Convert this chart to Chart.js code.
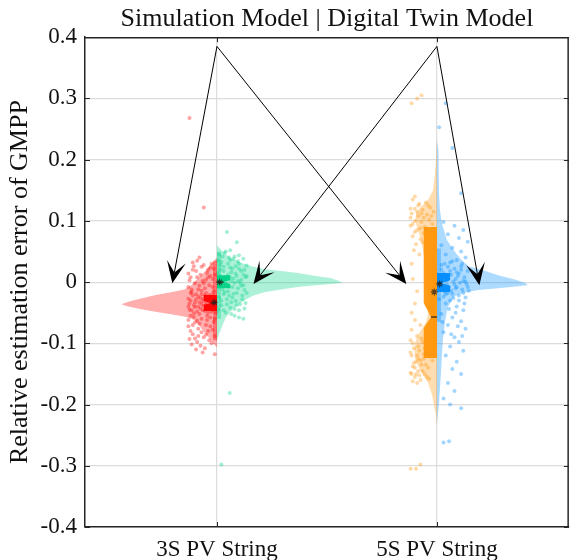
<!DOCTYPE html>
<html><head><meta charset="utf-8">
<script src="https://cdn.jsdelivr.net/npm/chart.js@4"></script>
<style>html,body{margin:0;padding:0;background:#fff;}</style>
</head><body>
<canvas id="c" width="574" height="560"></canvas>
<script>
// ---------------- data ----------------
const categories = ['3S PV String', '5S PV String'];
const categoryPositions = [1, 2];
const chartTitle = 'Simulation Model | Digital Twin Model';
const yAxisTitle = 'Relative estimation error of GMPP';
const yTickValues = [-0.4, -0.3, -0.2, -0.1, 0, 0.1, 0.2, 0.3, 0.4];

// half-violin density profiles (level, relative density)
const simViolin3S_y = [0.040,0.033,0.025,0.016,0.005,-0.005,-0.012,-0.017,-0.021,-0.027,-0.032,-0.036,-0.040,-0.044,-0.049,-0.053,-0.057,-0.062,-0.070,-0.078,-0.087,-0.095,-0.102,-0.107];
const simViolin3S_d = [0,4,8,13,20,26,33,48,62,78,90,97,90,78,61,45,31,23,18,15,10,6,3,0];
const dtViolin3S_y = [0.060,0.055,0.048,0.040,0.031,0.025,0.021,0.018,0.0147,0.010,0.0065,0.002,-0.0016,-0.003,-0.005,-0.008,-0.012,-0.016,-0.022,-0.029,-0.037,-0.046,-0.058,-0.073,-0.085,-0.095];
const dtViolin3S_d = [0,3,7,13,25,37,49,65,82,100,115,124,127,115,100,82,65,49,37,29,21,15,9,5,2,0];
const simViolin5S_y = [0.232,0.200,0.175,0.150,0.134,0.122,0.113,0.101,0.088,0.069,0.041,0.011,-0.013,-0.029,-0.045,-0.055,-0.065,-0.083,-0.098,-0.111,-0.127,-0.144,-0.165,-0.184,-0.200,-0.217,-0.233];
const simViolin5S_d = [0,1,2,4,9,17,21,22,20,16,13,11.5,10,9.5,9,9.5,11,18,22,23,22,17,9,5,3,1,0];
const dtViolin5S_y = [0.232,0.215,0.150,0.118,0.096,0.069,0.052,0.036,0.026,0.0196,0.011,0.004,-0.002,-0.005,-0.008,-0.010,-0.013,-0.018,-0.024,-0.041,-0.067,-0.095,-0.122,-0.152,-0.176,-0.200,-0.233];
const dtViolin5S_d = [0,1.5,2,3,5,10,17,25,32,46,62,80,90,92,75,62,42,26,17,11,8,6,5,4,3,2,0];

// box statistics: [q1, notchLo, median, notchHi, q3]
const simBox3S = [-0.047, -0.037, -0.034, -0.031, -0.021];
const dtBox3S  = [-0.010, -0.003, 0.000, 0.003, 0.011];
const simBox5S = [-0.124, -0.075, -0.057, -0.034, 0.090];
const dtBox5S  = [-0.016, -0.006, -0.002, 0.003, 0.015];
// whisker ranges [low, high]
const simWhisker3S = [-0.095, 0.035];
const dtWhisker3S  = [-0.060, 0.050];
const simWhisker5S = [-0.124, 0.090];
const dtWhisker5S  = [-0.065, 0.055];
// means
const simMean = [-0.033, -0.016];
const dtMean  = [0.000, -0.003];

// jittered samples [jitter offset, value]
const simPoints3S = [[-0.12,-0.030],[-0.10,-0.041],[-0.03,-0.025],[-0.07,-0.036],[-0.02,-0.045],[-0.11,-0.022],[-0.05,-0.038],[-0.09,-0.048],[-0.01,-0.031],[-0.06,-0.027],[-0.13,-0.040],[-0.04,-0.050],[-0.08,-0.033],[-0.02,-0.037],[-0.115,-0.046],[-0.035,-0.021],[-0.075,-0.043],[-0.095,-0.028],[-0.055,-0.047],[-0.015,-0.026],[-0.125,-0.035],[-0.065,-0.031],[-0.045,-0.042],[-0.085,-0.024],[-0.105,-0.038],[-0.025,-0.049],[-0.07,-0.020],[-0.005,-0.040],[-0.13,-0.027],[-0.05,-0.033],
[-0.09,0.035],[-0.06,0.028],[-0.11,0.020],[-0.03,0.024],[-0.075,0.012],[-0.12,0.008],[-0.045,0.015],[-0.02,0.005],[-0.10,-0.002],[-0.065,0.002],[-0.13,-0.008],[-0.035,-0.005],[-0.085,-0.012],[-0.015,-0.015],[-0.055,-0.010],[-0.115,-0.016],[-0.025,0.030],[-0.08,0.040],[-0.05,-0.018],[-0.095,0.018],[-0.04,0.008],[-0.125,0.003],[-0.07,-0.014],[-0.01,0.012],[-0.105,0.026],
[-0.12,-0.055],[-0.07,-0.060],[-0.03,-0.058],[-0.10,-0.066],[-0.05,-0.070],[-0.13,-0.072],[-0.015,-0.065],[-0.085,-0.076],[-0.04,-0.080],[-0.11,-0.085],[-0.06,-0.090],[-0.02,-0.078],[-0.125,-0.093],[-0.09,-0.098],[-0.035,-0.095],[-0.075,-0.104],[-0.115,-0.102],[-0.055,-0.108],[-0.025,-0.100],[-0.095,-0.110],[-0.065,-0.115],[-0.045,-0.062],[-0.105,-0.057],[-0.01,-0.088],[-0.08,-0.068],
[-0.115,-0.012],[-0.095,-0.020],[-0.075,-0.026],[-0.055,-0.022],[-0.035,-0.032],[-0.015,-0.034],[-0.125,-0.045],[-0.105,-0.051],[-0.085,-0.040],[-0.065,-0.046],[-0.045,-0.055],[-0.025,-0.041],[-0.005,-0.050],[-0.12,-0.018],[-0.10,-0.033],[-0.08,-0.052],[-0.06,-0.039],[-0.04,-0.029],[-0.02,-0.020],[-0.13,-0.062],[-0.11,-0.070],[-0.09,-0.063],[-0.07,-0.082],[-0.05,-0.086],[-0.03,-0.072],[-0.01,-0.060],[-0.12,-0.080],[-0.10,-0.092],[-0.08,-0.006],[-0.06,-0.002],[-0.04,0.020],[-0.02,-0.008],[-0.13,0.014],[-0.11,0.032],[-0.09,0.008],[-0.07,0.025],[-0.05,0.004],[-0.03,0.010],[-0.015,0.022],[-0.085,-0.088],
[-0.125,0.268],[-0.06,0.122],[-0.01,-0.118]];
const dtPoints3S = [[0.01,0.045],[0.04,0.050],[0.08,0.042],[0.12,0.038],[0.02,0.033],[0.06,0.036],[0.10,0.030],[0.135,0.027],[0.03,0.025],[0.07,0.022],[0.11,0.018],[0.005,0.015],[0.05,0.012],[0.09,0.010],[0.13,0.008],[0.025,0.004],[0.065,0.002],[0.105,-0.001],[0.015,-0.004],[0.055,-0.007],[0.095,-0.010],[0.125,-0.013],[0.035,-0.016],[0.075,-0.019],[0.115,-0.022],[0.01,-0.025],[0.045,-0.028],[0.085,-0.031],[0.13,-0.034],[0.02,-0.038],[0.06,-0.042],[0.10,-0.046],[0.04,-0.050],[0.08,-0.055],[0.12,-0.060],[0.03,0.018],[0.085,0.026],[0.045,-0.002],[0.12,0.012],[0.07,-0.025],[0.015,0.028],[0.095,0.034],[0.055,0.040],[0.11,-0.006],[0.025,-0.012],[0.065,0.016],[0.135,-0.018],[0.09,-0.038],[0.005,-0.045],[0.075,0.006],
[0.005,0.035],[0.025,0.042],[0.05,0.030],[0.075,0.038],[0.10,0.022],[0.125,0.020],[0.015,0.020],[0.04,0.008],[0.06,0.024],[0.085,0.014],[0.11,0.004],[0.135,0.010],[0.01,-0.008],[0.03,-0.020],[0.05,-0.015],[0.07,-0.008],[0.09,-0.018],[0.115,-0.028],[0.02,-0.030],[0.045,-0.036],[0.065,-0.033],[0.08,-0.044],[0.105,-0.036],[0.125,-0.043],[0.035,0.003],[0.06,0.008],[0.08,-0.001],[0.10,0.044],[0.035,0.048],[0.015,0.010],[0.055,-0.022],[0.095,0.002],[0.12,-0.005],[0.03,-0.046],[0.065,-0.052],[0.10,-0.058],
[0.045,0.082],[0.09,0.065],[0.06,0.052],[0.058,-0.181],[0.02,-0.298]];
const simPoints5S = [[-0.11,0.135],[-0.08,0.128],[-0.05,0.130],[-0.10,0.120],[-0.065,0.118],[-0.03,0.122],[-0.115,0.112],[-0.085,0.108],[-0.045,0.110],[-0.015,0.115],[-0.10,0.100],[-0.07,0.098],[-0.035,0.102],[-0.12,0.092],[-0.055,0.090],[-0.02,0.095],[-0.09,0.085],[-0.06,0.080],[-0.11,0.075],[-0.075,0.070],[-0.04,0.072],[-0.095,0.062],[-0.105,0.052],[-0.08,0.045],[-0.115,0.030],[-0.05,0.060],[-0.10,0.140],[-0.07,0.112],
[-0.12,0.120],[-0.09,0.115],[-0.06,0.105],[-0.025,0.108],[-0.11,0.095],[-0.075,0.088],[-0.045,0.085],[-0.10,0.082],[-0.065,0.065],[-0.085,0.125],[-0.04,0.125],[-0.12,0.105],
[-0.11,0.005],[-0.09,-0.015],[-0.10,-0.035],[-0.115,-0.050],
[-0.10,-0.062],[-0.075,-0.070],[-0.115,-0.078],[-0.05,-0.082],[-0.09,-0.088],[-0.12,-0.095],[-0.065,-0.098],[-0.03,-0.105],[-0.105,-0.108],[-0.08,-0.112],[-0.045,-0.115],[-0.115,-0.120],[-0.06,-0.125],[-0.02,-0.128],[-0.095,-0.130],[-0.07,-0.135],[-0.11,-0.138],[-0.04,-0.140],[-0.085,-0.145],[-0.12,-0.148],[-0.055,-0.150],[-0.10,-0.155],[-0.075,-0.160],[-0.035,-0.158],[-0.09,-0.165],[-0.06,-0.118],[-0.10,-0.140],[-0.085,-0.125],
[-0.11,-0.100],[-0.085,-0.105],[-0.055,-0.108],[-0.12,-0.115],[-0.09,-0.120],[-0.035,-0.122],[-0.075,-0.128],[-0.105,-0.132],[-0.05,-0.135],[-0.115,-0.150],[-0.065,-0.145],[-0.095,-0.150],[-0.045,-0.155],[-0.08,-0.152],[-0.11,-0.162],[-0.07,-0.092],
[-0.115,0.292],[-0.09,0.300],[-0.07,0.305],[-0.12,-0.305],[-0.095,-0.305],[-0.075,-0.298]];
const dtPoints5S = [[0.03,0.098],[0.08,0.092],[0.12,0.085],[0.05,0.078],[0.10,0.072],[0.14,0.066],[0.02,0.060],[0.07,0.056],[0.11,0.050],[0.04,0.045],[0.13,0.040],[0.09,0.036],[0.06,0.032],
[0.02,0.028],[0.05,0.025],[0.08,0.022],[0.11,0.020],[0.14,0.018],[0.03,0.015],[0.065,0.012],[0.095,0.010],[0.125,0.008],[0.015,0.005],[0.045,0.003],[0.075,0.001],[0.105,-0.001],[0.135,-0.003],[0.025,-0.006],[0.055,-0.008],[0.085,-0.010],[0.115,-0.012],[0.145,-0.014],[0.035,-0.016],[0.07,-0.019],[0.10,-0.022],[0.13,-0.025],[0.01,-0.028],[0.06,-0.030],[0.09,0.016],[0.12,0.002],[0.04,-0.020],[0.08,-0.004],[0.11,0.026],
[0.02,0.020],[0.04,0.010],[0.06,0.018],[0.085,0.005],[0.10,0.014],[0.13,0.001],[0.015,-0.012],[0.045,-0.004],[0.065,-0.014],[0.09,-0.008],[0.12,-0.018],[0.14,-0.008],[0.03,-0.024],[0.05,-0.018],[0.075,-0.026],[0.10,-0.030],[0.125,-0.035],[0.035,0.030],[0.07,0.034],[0.115,0.030],[0.055,-0.044],[0.085,-0.050],[0.025,-0.065],[0.095,-0.072],[0.065,-0.085],[0.115,-0.088],
[0.04,-0.035],[0.09,-0.040],[0.12,-0.046],[0.02,-0.052],[0.07,-0.058],[0.11,-0.064],[0.05,-0.070],[0.13,-0.076],[0.03,-0.082],[0.08,-0.090],[0.10,-0.098],[0.06,-0.105],[0.12,-0.112],[0.04,-0.120],[0.09,-0.130],[0.07,-0.142],[0.11,-0.150],[0.05,-0.165],[0.08,-0.178],[0.03,-0.190],[0.06,-0.200],[0.11,-0.206],
[0.04,0.292],[0.01,0.253],[0.07,0.219],[0.11,0.145],[0.03,-0.262],[0.055,-0.260]];

// annotation arrows: from title labels to each half violin
const arrowFrom = [[1.0, 0.385], [1.0, 0.385], [2.0, 0.385], [2.0, 0.385]];
const arrowTo   = [[0.797, -0.002], [1.861, -0.003], [1.166, -0.003], [2.193, -0.005]];

// ---------------- styling ----------------
const FONT = '"Liberation Serif", "Times New Roman", serif';
const DENS_SCALE = 1 / 223;   // density -> x units
const BOX_W = 0.06;
const WHISK_W = 0.018;
const COLORS = {
  red:   [255, 0, 0],
  green: [0, 210, 135],
  orange:[255, 150, 10],
  blue:  [0, 140, 255]
};
const rgba = (c, a) => `rgba(${c[0]},${c[1]},${c[2]},${a})`;

function violinPoly(center, side, ys, ds) {
  return ys.map((y, i) => ({x: center + side * ds[i] * DENS_SCALE, y}));
}
function boxPoly(center, side, b, notchFrac) {
  const [q1, nLo, med, nHi, q3] = b;
  const w = side * BOX_W, wi = side * BOX_W * notchFrac;
  return [
    {x: center, y: q3}, {x: center + w, y: q3}, {x: center + w, y: nHi},
    {x: center + wi, y: med}, {x: center + w, y: nLo}, {x: center + w, y: q1},
    {x: center, y: q1}
  ];
}
function rectPoly(center, side, lo, hi) {
  const w = side * WHISK_W;
  return [{x: center, y: hi}, {x: center + w, y: hi}, {x: center + w, y: lo}, {x: center, y: lo}];
}
function poly(data, color, order) {
  return {type: 'line', data, backgroundColor: color, borderColor: 'rgba(0,0,0,0)', borderWidth: 0,
          pointRadius: 0, pointHoverRadius: 0, fill: 'shape', tension: 0, order};
}
function scatterSet(center, pts, color, order) {
  return {type: 'scatter', data: pts.map(p => ({x: center + p[0], y: p[1]})), backgroundColor: color,
          borderWidth: 0, pointRadius: 2, pointHoverRadius: 2, order};
}
function medianLine(center, side, b, notchFrac) {
  return {type: 'line', data: [{x: center + side * BOX_W * notchFrac, y: b[2]}, {x: center, y: b[2]}],
          borderColor: 'rgba(50,40,20,0.85)', borderWidth: 1.3, pointRadius: 0, fill: false, order: 1};
}

const groups = [
  {c: categoryPositions[0], side: -1, col: COLORS.red,    vy: simViolin3S_y, vd: simViolin3S_d, box: simBox3S, wh: simWhisker3S, pts: simPoints3S, mean: simMean[0], nf: 0.5},
  {c: categoryPositions[0], side: 1,  col: COLORS.green,  vy: dtViolin3S_y,  vd: dtViolin3S_d,  box: dtBox3S,  wh: dtWhisker3S,  pts: dtPoints3S,  mean: dtMean[0], nf: 0.5},
  {c: categoryPositions[1], side: -1, col: COLORS.orange, vy: simViolin5S_y, vd: simViolin5S_d, box: simBox5S, wh: simWhisker5S, pts: simPoints5S, mean: simMean[1], nf: 0.45},
  {c: categoryPositions[1], side: 1,  col: COLORS.blue,   vy: dtViolin5S_y,  vd: dtViolin5S_d,  box: dtBox5S,  wh: dtWhisker5S,  pts: dtPoints5S,  mean: dtMean[1], nf: 0.35}
];

const datasets = [];
groups.forEach(g => {
  datasets.push(poly(violinPoly(g.c, g.side, g.vy, g.vd), rgba(g.col, 0.32), 5));
  datasets.push(scatterSet(g.c, g.pts, rgba(g.col, 0.36), 4));
  datasets.push(poly(rectPoly(g.c, g.side, g.wh[0], g.wh[1]), rgba(g.col, 0.35), 3));
  datasets.push(poly(boxPoly(g.c, g.side, g.box, g.nf), rgba(g.col, 0.95), 2));
  datasets.push(medianLine(g.c, g.side, g.box, g.nf));
  datasets.push({type: 'scatter', data: [{x: g.c + g.side * 0.012, y: g.mean}], pointStyle: 'star',
                 pointRadius: 3.5, borderColor: 'rgba(30,30,30,0.7)', borderWidth: 1.1, backgroundColor: 'rgba(0,0,0,0)', order: 0});
});

const framePlugin = {
  id: 'frameAndArrows',
  afterDatasetsDraw(chart) {
    const {ctx, chartArea: a, scales: {x, y}} = chart;
    ctx.save();
    ctx.strokeStyle = '#262626';
    ctx.lineWidth = 1.5;
    ctx.beginPath();
    ctx.moveTo(a.left, a.top + 0.5);
    ctx.lineTo(a.right - 0.75, a.top + 0.5);
    ctx.lineTo(a.right - 0.75, a.bottom);
    ctx.stroke();
    ctx.lineWidth = 1;
    ctx.beginPath();
    yTickValues.forEach(v => {
      const py = Math.round(y.getPixelForValue(v)) + 0.5;
      ctx.moveTo(a.left, py); ctx.lineTo(a.left + 5, py);
      ctx.moveTo(a.right, py); ctx.lineTo(a.right - 5, py);
    });
    categoryPositions.forEach(v => {
      const px = Math.round(x.getPixelForValue(v)) + 0.5;
      ctx.moveTo(px, a.top); ctx.lineTo(px, a.top + 5);
      ctx.moveTo(px, a.bottom); ctx.lineTo(px, a.bottom - 5);
    });
    ctx.stroke();
    ctx.strokeStyle = '#000';
    ctx.fillStyle = '#000';
    ctx.lineWidth = 1;
    arrowFrom.forEach((f, i) => {
      const x0 = x.getPixelForValue(f[0]), y0 = y.getPixelForValue(f[1]);
      const x1 = x.getPixelForValue(arrowTo[i][0]), y1 = y.getPixelForValue(arrowTo[i][1]);
      const dx = x1 - x0, dy = y1 - y0, len = Math.hypot(dx, dy);
      const ux = dx / len, uy = dy / len, nx = -uy, ny = ux;
      const L = 22, W = 9.5, N = 0.5 * L;
      ctx.beginPath();
      ctx.moveTo(x0, y0);
      ctx.lineTo(x1 - ux * N, y1 - uy * N);
      ctx.stroke();
      ctx.beginPath();
      ctx.moveTo(x1, y1);
      ctx.lineTo(x1 - ux * L + nx * W, y1 - uy * L + ny * W);
      ctx.lineTo(x1 - ux * N, y1 - uy * N);
      ctx.lineTo(x1 - ux * L - nx * W, y1 - uy * L - ny * W);
      ctx.closePath();
      ctx.fill();
    });
    ctx.restore();
  }
};

new Chart(document.getElementById('c'), {
  type: 'scatter',
  data: {datasets},
  options: {
    responsive: false,
    animation: false,
    devicePixelRatio: 1,
    layout: {padding: 0},
    plugins: {
      legend: {display: false},
      tooltip: {enabled: false},
      title: {display: true, text: chartTitle, fullSize: false, color: '#111',
              font: {family: FONT, size: 26, weight: 'normal', lineHeight: 1.2},
              padding: {top: 4, bottom: 2}}
    },
    scales: {
      x: {
        type: 'linear', min: 0.4, max: 2.6,
        afterBuildTicks: s => { s.ticks = categoryPositions.map(v => ({value: v})); },
        afterFit: s => { s.height = 33; },
        ticks: {callback: (v, i) => categories[i], font: {family: FONT, size: 23}, color: '#111',
                padding: 9, maxRotation: 0, autoSkip: false},
        grid: {color: '#dcdcdc', lineWidth: 1.2, drawTicks: false},
        border: {color: '#262626', width: 1.5}
      },
      y: {
        type: 'linear', min: -0.4, max: 0.4,
        afterBuildTicks: s => { s.ticks = yTickValues.map(v => ({value: v})); },
        afterFit: s => { s.width = 85; },
        ticks: {callback: v => (v === 0 ? '0' : v.toFixed(1)), font: {family: FONT, size: 23}, color: '#111', padding: 8},
        grid: {color: '#dcdcdc', lineWidth: 1.2, drawTicks: false},
        border: {color: '#262626', width: 1.5},
        title: {display: true, text: yAxisTitle, color: '#111', font: {family: FONT, size: 26, lineHeight: 1.2},
                padding: {top: 5, bottom: 0}}
      }
    }
  },
  plugins: [framePlugin]
});
</script>
</body></html>
